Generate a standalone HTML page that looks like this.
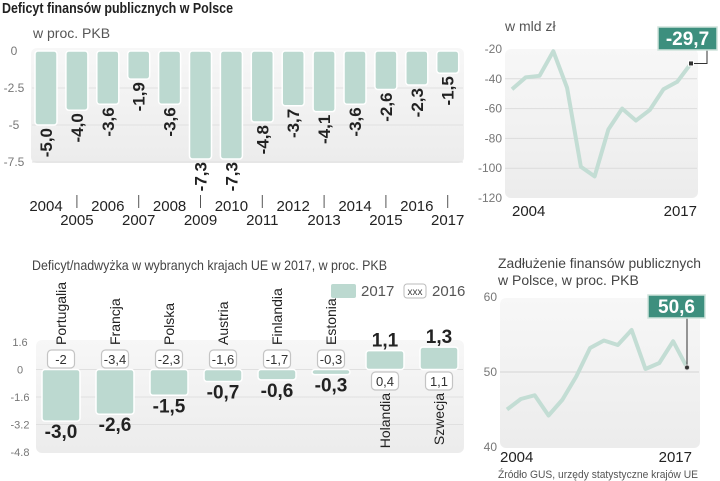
<!DOCTYPE html>
<html><head><meta charset="utf-8"><style>
html,body{margin:0;padding:0;background:#fff;}
svg{display:block;font-family:"Liberation Sans Narrow","Liberation Sans",sans-serif;}
</style></head><body>
<svg id="s" width="720" height="481" viewBox="0 0 720 481" xmlns="http://www.w3.org/2000/svg">
<defs>
<linearGradient id="pg" x1="0" y1="0" x2="0" y2="1"><stop offset="0" stop-color="#f7f7f7"/><stop offset="1" stop-color="#ececec"/></linearGradient>
</defs>
<text x="2" y="13" font-size="15" font-weight="bold" fill="#222" textLength="231" lengthAdjust="spacingAndGlyphs">Deficyt finansów publicznych w Polsce</text>
<text x="33" y="38" font-size="14" fill="#555" font-family="Liberation Sans, sans-serif">w proc. PKB</text>
<rect x="31" y="48" width="433" height="115" rx="6" fill="url(#pg)"/>
<text x="505" y="31" font-size="14" fill="#555" font-family="Liberation Sans, sans-serif">w mld zł</text>
<rect x="505" y="49" width="193" height="149" rx="6" fill="url(#pg)"/>
<text x="32" y="270" font-size="14" fill="#444" font-family="Liberation Sans, sans-serif" textLength="355" lengthAdjust="spacingAndGlyphs">Deficyt/nadwyżka w wybranych krajach UE w 2017, w proc. PKB</text>
<rect x="36" y="340" width="428" height="113" rx="6" fill="url(#pg)"/>
<g>
<rect x="331" y="284" width="25" height="14" rx="2" fill="#bcd9d0"/>
<text x="361" y="296" font-size="15" fill="#555" font-family="Liberation Sans, sans-serif">2017</text>
<rect x="404" y="284" width="22" height="14" rx="3" fill="#fff" stroke="#bbb"/>
<text x="415" y="295" font-size="10" fill="#444" text-anchor="middle">xxx</text>
<text x="432" y="296" font-size="15" fill="#555" font-family="Liberation Sans, sans-serif">2016</text>
</g>
<text x="498" y="268" font-size="14" fill="#444" font-family="Liberation Sans, sans-serif" textLength="203" lengthAdjust="spacingAndGlyphs">Zadłużenie finansów publicznych</text>
<text x="498" y="285" font-size="14" fill="#444" font-family="Liberation Sans, sans-serif">w Polsce, w proc. PKB</text>
<rect x="500" y="298" width="200" height="150" rx="6" fill="url(#pg)"/>
<text x="498" y="478" font-size="11" fill="#555" font-family="Liberation Sans, sans-serif" textLength="200" lengthAdjust="spacingAndGlyphs">Źródło GUS, urzędy statystyczne krajów UE</text>
<g id="g1"></g><g id="g2"></g><g id="g3"></g><g id="g4"></g>
</svg>
<script>
const years = [2004,2005,2006,2007,2008,2009,2010,2011,2012,2013,2014,2015,2016,2017];
const deficitPct = [-5.0,-4.0,-3.6,-1.9,-3.6,-7.3,-7.3,-4.8,-3.7,-4.1,-3.6,-2.6,-2.3,-1.5];
const deficitTicks = [0,-2.5,-5,-7.5];
const deficitBln = [-47,-39,-38,-21.5,-46,-99,-105.5,-74,-60,-68,-61,-47,-42,-29.7];
const blnTicks = [-20,-40,-60,-80,-100,-120];
const countries = ["Portugalia","Francja","Polska","Austria","Finlandia","Estonia","Holandia","Szwecja"];
const eu2017 = [-3.0,-2.6,-1.5,-0.7,-0.6,-0.3,1.1,1.3];
const eu2016 = [-2,-3.4,-2.3,-1.6,-1.7,-0.3,0.4,1.1];
const euTicks = [1.6,0,-1.6,-3.2,-4.8];
const euTickLabels = ["1.6","0","-1.6","-3.2","-4.8"];
const debtPct = [45.0,46.4,46.9,44.2,46.3,49.4,53.2,54.2,53.6,55.6,50.4,51.2,54.1,50.6];
const debtTicks = [60,50,40];

const NS="http://www.w3.org/2000/svg";
function mk(parent,tag,attrs,text){const e=document.createElementNS(NS,tag);for(const k in attrs)e.setAttribute(k,attrs[k]);if(text!==undefined)e.textContent=text;parent.appendChild(e);return e;}
const fmt=v=>v.toFixed(1).replace('.',',');
const BAR="#bcd9d0", LINE="#c3ddd4", TEAL="#3d8f7e";

(function(){
  const g=document.getElementById('g1');
  const y=v=>51+(-v)*14.8; const x=i=>46+i*30.9;
  deficitTicks.forEach(t=>{
    if(t!==0){const l=mk(g,'line',{x1:32,x2:463,y1:y(t),y2:y(t),stroke:'#e0e0e0'});
    
    }
    const tx=mk(g,'text',{x:14,y:y(t)+4,'font-size':12,fill:'#777','text-anchor':'middle','font-family':'Liberation Sans, sans-serif'},String(t));
    
    
  });
  deficitPct.forEach((v,i)=>{
    const r=mk(g,'rect',{x:x(i)-11,y:y(0),width:22,height:y(v)-y(0),rx:3,fill:BAR,stroke:'#fff','stroke-width':1.5});
    
    
    const t=mk(g,'text',{x:0,y:0,'font-size':17,'font-weight':'bold',fill:'#222','text-anchor':'end',dy:'0.35em',transform:`translate(${x(i)},${y(v)+3}) rotate(-90)`},fmt(v));
    
    
    const yl=mk(g,'text',{x:x(i),y:i%2===0?211:225,'font-size':15,fill:'#222','text-anchor':'middle','font-family':'Liberation Sans, sans-serif'},years[i]);
    
    
    if(i%2===1){const s=mk(g,'line',{x1:x(i),x2:x(i),y1:195,y2:208,stroke:'#555'});
      
      }
  });
})();

(function(){
  const g=document.getElementById('g2');
  const y=v=>49+(-20-v)*1.49; const x=i=>512+i*(179/13);
  blnTicks.forEach(t=>{
    if(t!==-20&&t!==-120){const l=mk(g,'line',{x1:505,x2:697,y1:y(t),y2:y(t),stroke:'#dcdcdc'});
    
    }
    const tx=mk(g,'text',{x:502,y:y(t)+4,'font-size':12,fill:'#777','text-anchor':'end','font-family':'Liberation Sans, sans-serif'},t);
    
    
  });
  const p=mk(g,'polyline',{points:deficitBln.map((v,i)=>x(i)+','+y(v)).join(' '),fill:'none',stroke:LINE,'stroke-width':4,'stroke-linejoin':'round'});
  
  
  const n=deficitBln.length-1, px=x(n), py=y(deficitBln[n]);
  const c=mk(g,'polyline',{points:`${px+2},${py} ${707},${py} ${707},${49}`,fill:'none',stroke:'#333','stroke-width':1});
  
  
  const d=mk(g,'rect',{x:px-2.5,y:py-2.5,width:5,height:5,fill:'#333',stroke:'#fff'});
  
  
  const b=mk(g,'rect',{x:658,y:27,width:59,height:23,fill:TEAL,stroke:'#cfe3dc','stroke-width':1.5});
  
  
  const bt=mk(g,'text',{x:687.5,y:45,'font-size':19,'font-weight':'bold',fill:'#fff','text-anchor':'middle'},fmt(deficitBln[n]));
  
  
  [[0,512,'start'],[n,697,'end']].forEach(([i,xx,a])=>{
    const t=mk(g,'text',{x:xx,y:216,'font-size':15,fill:'#222','text-anchor':a,'font-family':'Liberation Sans, sans-serif'},years[i]);
    
    
  });
})();

(function(){
  const g=document.getElementById('g3');
  const y=v=>369.5-v*17.2; const x=i=>61+i*54;
  euTicks.forEach((t,k)=>{
    if(t!==1.6&&t!==-4.8){const l=mk(g,'line',{x1:36,x2:463,y1:y(t),y2:y(t),stroke:'#e0e0e0'});
    
    }
    const tx=mk(g,'text',{x:20,y:y(t)+4,'font-size':11,fill:'#777','text-anchor':'middle','font-family':'Liberation Sans, sans-serif'},euTickLabels[k]);
    
    
  });
  countries.forEach((c,i)=>{
    const v=eu2017[i], neg=v<0, top=Math.min(y(0),y(v)), h=Math.max(2,Math.abs(y(v)-y(0)));
    const r=mk(g,'rect',{x:x(i)-19,y:top,width:38,height:h,rx:3,fill:BAR,stroke:'#fff','stroke-width':1.5});
    
    
    const vl=mk(g,'text',{x:x(i),y:neg?y(v)+17:y(v)-4,'font-size':19,'font-weight':'bold',fill:'#222','text-anchor':'middle'},fmt(v));
    
    
    const by=neg?350:372;
    const bx=mk(g,'rect',{x:x(i)-13.5,y:by,width:27,height:18,rx:4,fill:'#fff',stroke:'#c4c4c4','stroke-width':1.2});
    
    
    const bt=mk(g,'text',{x:x(i),y:by+14,'font-size':13,fill:'#333','text-anchor':'middle'},String(eu2016[i]).replace('.',','));
    
    
    const nm=mk(g,'text',{x:0,y:0,'font-size':14,fill:'#222','text-anchor':neg?'start':'end',dy:'0.35em','font-family':'Liberation Sans, sans-serif',transform:`translate(${x(i)},${neg?345:393}) rotate(-90)`},c);
    
    
  });
})();

(function(){
  const g=document.getElementById('g4');
  const y=v=>297+(60-v)*7.5; const x=i=>507+i*(180/13);
  debtTicks.forEach(t=>{
    if(t===50){const l=mk(g,'line',{x1:500,x2:699,y1:y(t),y2:y(t),stroke:'#d4d4d4'});
    
    }
    const tx=mk(g,'text',{x:497,y:y(t)+4,'font-size':12,fill:'#777','text-anchor':'end','font-family':'Liberation Sans, sans-serif'},t);
    
    
  });
  const p=mk(g,'polyline',{points:debtPct.map((v,i)=>x(i)+','+y(v)).join(' '),fill:'none',stroke:LINE,'stroke-width':4,'stroke-linejoin':'round'});
  
  
  const n=debtPct.length-1, px=x(n), py=y(debtPct[n]);
  const c=mk(g,'line',{x1:px,x2:px,y1:318,y2:py,stroke:'#333'});
  
  
  const d=mk(g,'circle',{cx:px,cy:py,r:2.5,fill:'#333',stroke:'#ddd'});
  
  
  const b=mk(g,'rect',{x:648,y:295,width:57,height:23,fill:TEAL,stroke:'#cfe3dc','stroke-width':1.5});
  
  
  const bt=mk(g,'text',{x:676.5,y:313,'font-size':19,'font-weight':'bold',fill:'#fff','text-anchor':'middle'},fmt(debtPct[n]));
  
  
  [[0,500,'start'],[n,692,'end']].forEach(([i,xx,a])=>{
    const t=mk(g,'text',{x:xx,y:462,'font-size':15,fill:'#222','text-anchor':a,'font-family':'Liberation Sans, sans-serif'},years[i]);
    
    
  });
})();
</script>
</body></html>
